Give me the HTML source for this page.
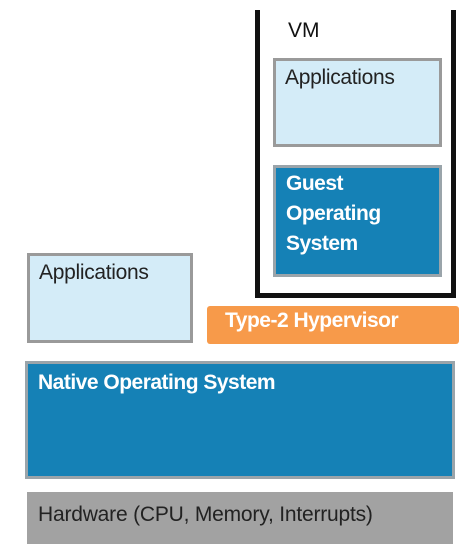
<!DOCTYPE html>
<html><head><style>
body{margin:0;width:459px;height:544px;background:#fff;position:relative;overflow:hidden;font-family:"Liberation Sans",sans-serif}
div{position:absolute;box-sizing:border-box}
.lb{background:#d4ecf8;border:3px solid #9a9a9a;color:#222;font-size:21px;padding:5px 0 0 9px;letter-spacing:-0.3px}
.db{background:#1581b6;border:3px solid #9aa4aa;color:#fff;font-weight:bold;font-size:21px;padding:6px 0 0 10px;line-height:30px;letter-spacing:-0.5px}
</style></head><body>
<div style="left:255px;top:10px;width:201px;height:288px;border:5px solid #111;border-top:none"></div>
<div style="left:288px;top:19px;font-size:21px;color:#111">VM</div>
<div class="lb" style="left:273px;top:58px;width:169px;height:89px">Applications</div>
<div class="db" style="left:273px;top:165px;width:169px;height:112px;padding-top:1px">Guest<br>Operating<br>System</div>
<div class="lb" style="left:27px;top:253px;width:166px;height:90px">Applications</div>
<div style="left:207px;top:306px;width:252px;height:38px;background:#f79a4a;border-radius:3px;color:#fff;font-weight:bold;font-size:21px;padding:3px 0 0 18px;letter-spacing:-0.5px">Type-2 Hypervisor</div>
<div class="db" style="left:25px;top:361px;width:430px;height:118px;padding-top:4px">Native Operating System</div>
<div style="left:27px;top:492px;width:426px;height:52px;background:#a2a2a2;color:#222;font-size:21px;padding:11px 0 0 11px;letter-spacing:-0.2px">Hardware (CPU, Memory, Interrupts)</div>
</body></html>
